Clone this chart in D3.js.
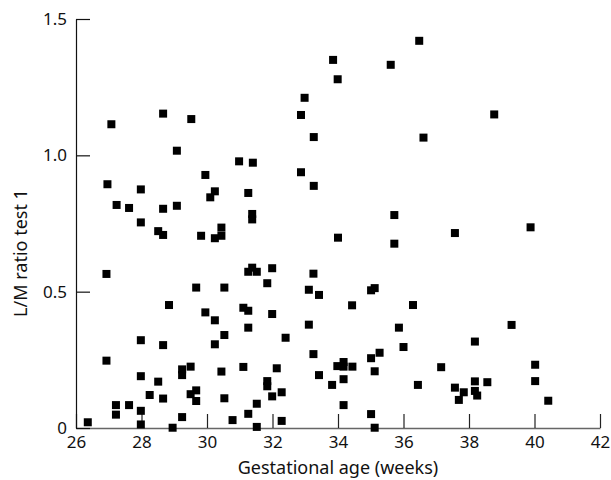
<!DOCTYPE html>
<html>
<head>
<meta charset="utf-8">
<script src="https://cdn.jsdelivr.net/npm/d3@7"></script>
<style>
  html, body { margin: 0; padding: 0; background: #fff; }
  svg { display: block; }
  text { font-family: "Noto Sans", "DejaVu Sans", sans-serif; fill: #111; }
</style>
</head>
<body>
<svg id="chart" width="611" height="480"></svg>
<script>
// Gestational age (weeks)
const gestAge = [
  36.48, 33.85, 35.61, 33.99, 32.98, 32.87, 38.77, 28.66, 29.52, 27.08,
  33.26, 36.61, 29.08, 30.98, 31.40, 32.87, 29.95, 26.96, 33.26, 27.98,
  30.24, 31.26, 30.10, 27.24, 29.08, 27.62, 28.66, 31.38, 35.72, 31.38,
  27.98, 39.88, 30.44, 28.51, 37.57, 28.66, 29.82, 30.44, 34.00, 30.24,
  35.72, 31.38, 31.99, 31.26, 31.52, 33.25, 26.93, 31.84, 29.67, 30.53,
  35.12, 33.11, 35.01, 33.42, 28.84, 34.43, 36.29, 31.11, 31.26, 29.95,
  31.99, 30.24, 33.11, 39.30, 31.26, 35.86, 30.53, 32.40, 27.98, 38.18,
  30.24, 28.66, 36.00, 35.27, 33.25, 35.01, 26.93, 34.17, 40.02, 33.98,
  29.50, 34.17, 34.44, 31.11, 37.15, 32.13, 29.24, 35.12, 30.44, 29.24,
  33.42, 27.98, 34.17, 31.84, 40.02, 38.18, 28.51, 38.56, 33.82, 36.44,
  31.84, 37.57, 29.67, 38.18, 32.28, 37.84, 29.50, 28.25, 38.25, 31.99,
  30.53, 28.66, 37.69, 40.42, 29.67, 31.52, 27.22, 27.62, 34.17, 27.98,
  31.26, 35.01, 27.22, 29.24, 30.78, 32.28, 26.36, 27.98, 31.52, 28.95,
  35.12
];
// L/M ratio test 1
const lmRatio = [
  1.420, 1.350, 1.332, 1.279, 1.211, 1.148, 1.150, 1.153, 1.133, 1.114,
  1.067, 1.065, 1.017, 0.978, 0.973, 0.938, 0.928, 0.894, 0.888, 0.875,
  0.868, 0.862, 0.846, 0.818, 0.815, 0.807, 0.804, 0.785, 0.781, 0.765,
  0.754, 0.736, 0.735, 0.722, 0.715, 0.708, 0.705, 0.705, 0.698, 0.696,
  0.676, 0.588, 0.586, 0.573, 0.573, 0.566, 0.565, 0.531, 0.515, 0.515,
  0.513, 0.507, 0.505, 0.488, 0.451, 0.450, 0.451, 0.441, 0.430, 0.424,
  0.418, 0.395, 0.379, 0.378, 0.368, 0.368, 0.341, 0.331, 0.322, 0.317,
  0.307, 0.304, 0.297, 0.276, 0.271, 0.256, 0.247, 0.242, 0.232, 0.227,
  0.225, 0.225, 0.225, 0.224, 0.223, 0.219, 0.215, 0.208, 0.207, 0.194,
  0.194, 0.190, 0.179, 0.172, 0.172, 0.171, 0.170, 0.168, 0.158, 0.158,
  0.153, 0.148, 0.138, 0.136, 0.131, 0.131, 0.124, 0.121, 0.119, 0.116,
  0.109, 0.108, 0.103, 0.100, 0.099, 0.089, 0.084, 0.084, 0.084, 0.063,
  0.052, 0.051, 0.049, 0.040, 0.029, 0.026, 0.021, 0.013, 0.004, 0.001,
  0.001
];
const xTicks = [26, 28, 30, 32, 34, 36, 38, 40, 42];
const yTicks = [0, 0.5, 1.0, 1.5];
const yTickLabels = ["0", "0.5", "1.0", "1.5"];
const xTitle = "Gestational age (weeks)";
const yTitle = "L/M ratio test 1";

const points = gestAge.map((g, i) => ({ x: g, y: lmRatio[i] }));

const svg = d3.select("#chart");
const x = d3.scaleLinear().domain([26, 42]).range([76, 600]);
const y = d3.scaleLinear().domain([0, 1.5]).range([428, 19]);

// X axis
const xAxis = svg.append("g").attr("transform", `translate(0,${y(0)})`)
  .call(d3.axisBottom(x).tickValues(xTicks).tickSize(-14).tickSizeOuter(0).tickFormat(d3.format("d")));
xAxis.select(".domain").attr("stroke", "#666").attr("stroke-width", 1.4);
xAxis.selectAll(".tick line").attr("stroke", "#222").attr("stroke-width", 1.2);
xAxis.selectAll(".tick text").attr("y", 20).attr("dy", 0)
  .style("font-family", "'Noto Sans', sans-serif").style("font-size", "17px").attr("fill", "#111");

// Y axis
const yAxis = svg.append("g").attr("transform", `translate(${x(26)},0)`)
  .call(d3.axisLeft(y).tickValues(yTicks).tickSize(-14).tickSizeOuter(0)
    .tickFormat((d, i) => yTickLabels[i]));
yAxis.select(".domain").attr("stroke", "#111").attr("stroke-width", 1.2);
yAxis.selectAll(".tick line").attr("stroke", "#111").attr("stroke-width", 1.2);
yAxis.selectAll(".tick text").attr("x", -9)
  .style("font-family", "'Noto Sans', sans-serif").style("font-size", "17px").attr("fill", "#111");

// Points
const s = 8;
svg.append("g").selectAll("rect").data(points).join("rect")
  .attr("x", d => x(d.x) - s / 2)
  .attr("y", d => y(d.y) - s / 2)
  .attr("width", s).attr("height", s)
  .attr("fill", "#000");

// Titles
svg.append("text").attr("x", 338).attr("y", 474).attr("text-anchor", "middle")
  .style("font-size", "18px").text(xTitle);
svg.append("text").attr("transform", "translate(27,253) rotate(-90)").attr("text-anchor", "middle")
  .style("font-size", "18px").text(yTitle);
</script>
</body>
</html>
